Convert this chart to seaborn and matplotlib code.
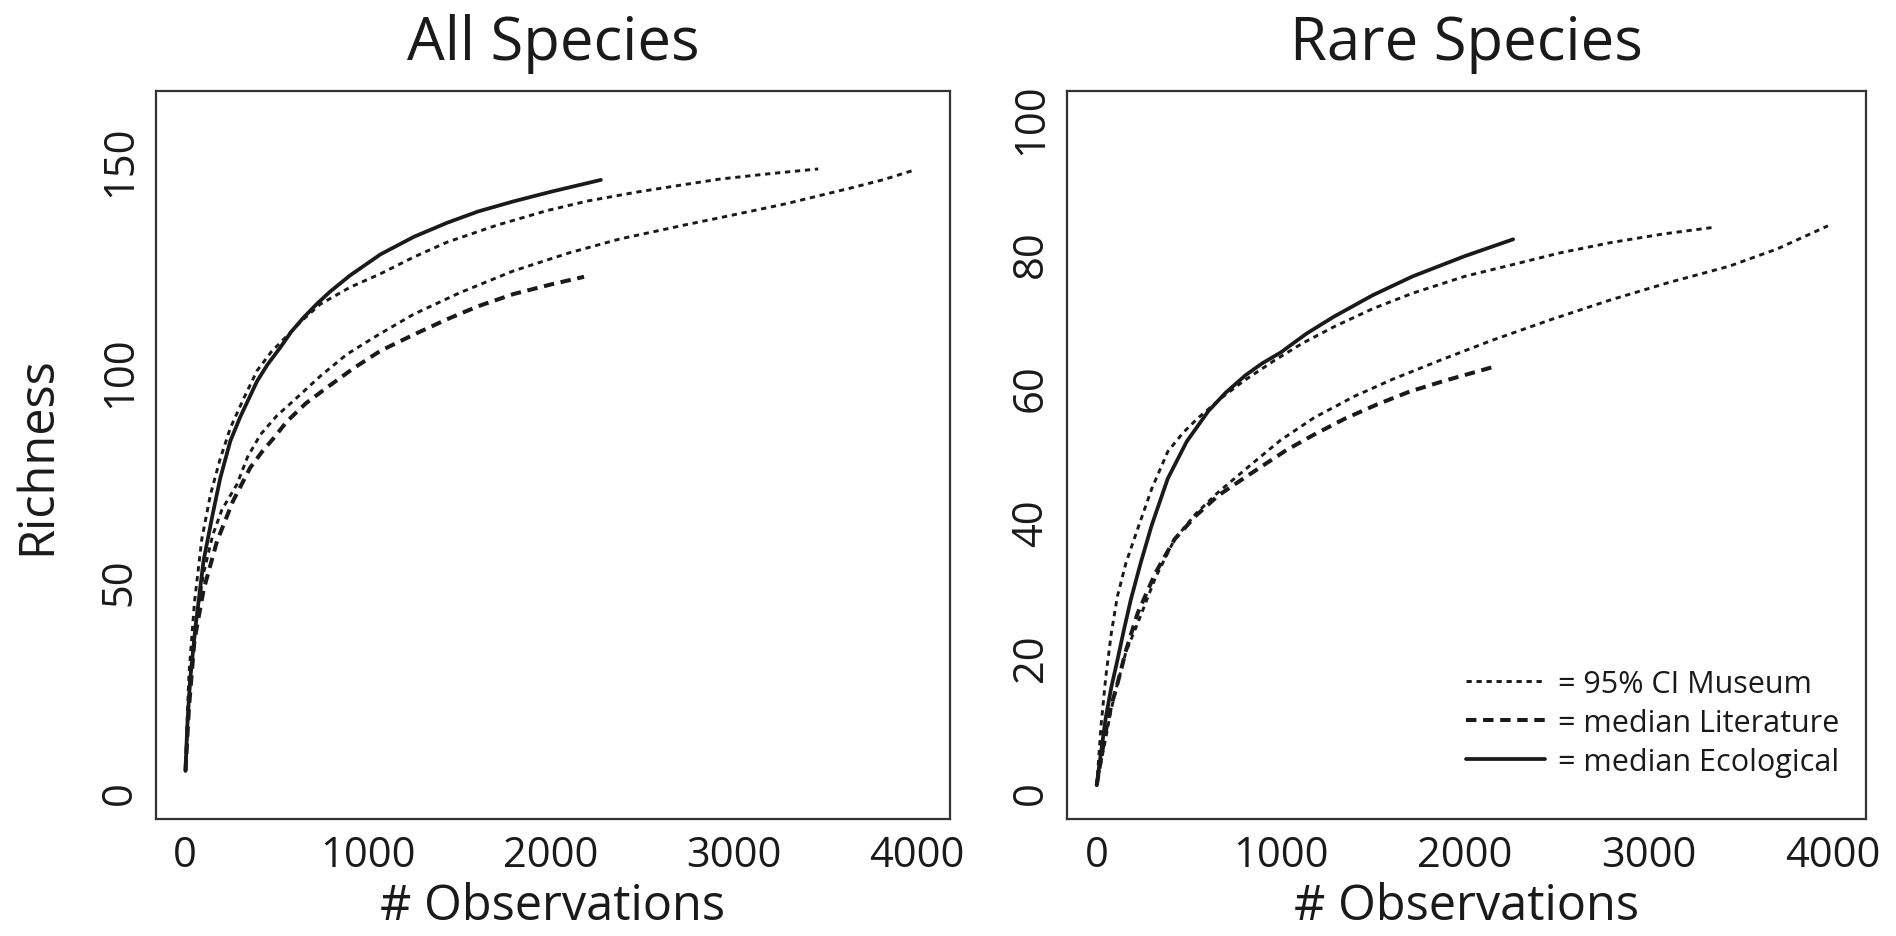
import matplotlib
matplotlib.use("Agg")
import matplotlib.pyplot as plt
import seaborn as sns

# All Species panel
all_eco_x = [1, 10, 25, 55, 100, 150, 191, 246, 300, 392, 450, 519, 580, 646, 720, 792,
             900, 1066, 1250, 1430, 1600, 1794, 2000, 2272]
all_eco_y = [5, 15, 26, 39, 55, 66, 74.5, 83.3, 89, 97.5, 101.5, 105.5, 109.3, 112.6, 115.9, 118.8,
             122.6, 127.6, 131.8, 135.1, 137.8, 140.2, 142.5, 145.3]
all_mus_hi_x = [1, 10, 20, 50, 90, 137, 190, 246, 320, 392, 470, 550, 640, 738, 900, 1066,
                1250, 1430, 1700, 1976, 2200, 2468, 2700, 2923, 3200, 3460]
all_mus_hi_y = [5, 17, 28, 45, 60, 70.5, 79, 86.4, 93.5, 100, 104.5, 108, 112, 115.8, 119.8, 123,
                127, 130.5, 134.5, 138, 140.3, 142.4, 144, 145.5, 146.8, 147.9]
all_mus_lo_x = [1, 20, 50, 100, 150, 200, 282, 340, 410, 500, 610, 740, 883, 1050, 1248, 1500,
                1794, 2100, 2377, 2560, 2741, 2920, 3106, 3290, 3470, 3650, 3820, 3975]
all_mus_lo_y = [5, 22, 38, 52, 61, 67, 73, 79.5, 84.8, 89.3, 93.6, 98.8, 103.9, 108.4, 113.4, 118.5,
                123.7, 128, 131.3, 133, 134.7, 136.3, 138, 139.7, 141.6, 143.5, 145.4, 147.5]
all_lit_x = [1, 20, 50, 100, 173, 260, 355, 420, 483, 556, 660, 774, 920, 1066, 1250, 1430,
             1600, 1794, 2000, 2180]
all_lit_y = [5, 20, 36, 48, 59.5, 69, 77, 80.8, 84, 88, 92.3, 96, 100.6, 104.7, 108.6, 112.2,
             115.3, 118.2, 120.5, 122.3]

# Rare Species panel
rare_eco_x = [1, 25, 50, 80, 113, 150, 186, 240, 300, 387, 490, 607, 700, 808, 900, 1000,
              1140, 1288, 1500, 1717, 2000, 2263]
rare_eco_y = [1, 6, 11, 15.5, 19.5, 24.2, 28.5, 34, 39.6, 46.5, 52, 56.5, 59.2, 61.8, 63.6, 65.2,
              68, 70.5, 73.7, 76.5, 79.5, 82]
rare_mus_hi_x = [1, 25, 50, 80, 113, 160, 223, 300, 387, 470, 552, 680, 800, 965, 1120, 1288,
                 1500, 1717, 2000, 2254, 2520, 2791, 3080, 3359]
rare_mus_hi_y = [1, 10, 17, 23.5, 29, 34, 39, 45, 50.5, 53.3, 55.5, 58.5, 61, 64, 66.6, 69,
                 71.7, 74, 76.5, 78.2, 80, 81.5, 82.8, 83.8]
rare_mus_lo_x = [1, 25, 50, 80, 113, 160, 223, 320, 424, 540, 662, 858, 1000, 1180, 1400, 1610,
                 1880, 2147, 2470, 2791, 3110, 3436, 3700, 3973]
rare_mus_lo_y = [1, 4.5, 8, 12.3, 16, 20.8, 25, 31.8, 37.5, 41.3, 44.5, 49, 52.2, 55.5, 58.7, 61.25,
                 64.2, 67, 70.1, 73, 75.6, 78, 80.6, 84]
rare_lit_x = [1, 25, 50, 80, 113, 160, 223, 320, 424, 540, 662, 770, 880, 1030, 1180, 1350,
              1524, 1700, 1889, 2147]
rare_lit_y = [1, 5, 9, 12.8, 16, 21, 26.5, 32.5, 37.5, 41, 44, 46, 48, 50.7, 53, 55.4,
              57.5, 59.4, 61, 63]

legend_labels = ["= 95% CI Museum", "= median Literature", "= median Ecological"]

sns.set_style("white")
plt.rcParams['font.family'] = ['Open Sans', 'DejaVu Sans']
plt.rcParams['lines.scale_dashes'] = False
ink = "#1a1a1a"

mus_style = dict(color=ink, linewidth=2.1, linestyle=(0, (3.8, 3.4)))
lit_style = dict(color=ink, linewidth=2.9, linestyle=(0, (7.5, 4.8)))
eco_style = dict(color=ink, linewidth=2.7, linestyle="-")

fig = plt.figure(figsize=(18.96, 9.37), dpi=100)
ax1 = fig.add_axes([0.0823, 0.1249, 0.4187, 0.7769])
ax2 = fig.add_axes([0.5628, 0.1249, 0.4214, 0.7769])


def draw(ax, eco, hi, lo, lit, ymax, yticks, title):
    sns.lineplot(x=hi[0], y=hi[1], ax=ax, **mus_style)
    sns.lineplot(x=lo[0], y=lo[1], ax=ax, **mus_style)
    sns.lineplot(x=lit[0], y=lit[1], ax=ax, **lit_style)
    sns.lineplot(x=eco[0], y=eco[1], ax=ax, **eco_style)
    ax.set_xlim(-160, 4180)
    ax.set_ylim(-0.04 * ymax, 1.04 * ymax)
    ax.set_xticks([0, 1000, 2000, 3000, 4000])
    ax.set_yticks(yticks)
    ax.set_title(title, fontsize=43, color=ink, pad=23)
    ax.set_xlabel("# Observations", fontsize=35, color=ink, labelpad=4)
    ax.set_ylabel("")
    ax.tick_params(axis="both", direction="out", length=9, width=1.5,
                   color="#333333", labelsize=30, labelcolor=ink, pad=2)
    for lab in ax.get_yticklabels():
        lab.set_rotation(90)
        lab.set_va("center")
    for s in ax.spines.values():
        s.set_color("#333333")
        s.set_linewidth(1.6)


draw(ax1, (all_eco_x, all_eco_y), (all_mus_hi_x, all_mus_hi_y),
     (all_mus_lo_x, all_mus_lo_y), (all_lit_x, all_lit_y),
     160, [0, 50, 100, 150], "All Species")
draw(ax2, (rare_eco_x, rare_eco_y), (rare_mus_hi_x, rare_mus_hi_y),
     (rare_mus_lo_x, rare_mus_lo_y), (rare_lit_x, rare_lit_y),
     100, [0, 20, 40, 60, 80, 100], "Rare Species")

ax1.set_ylabel("Richness", fontsize=35, color=ink, labelpad=26)

handles = [plt.Line2D([], [], **mus_style),
           plt.Line2D([], [], **lit_style),
           plt.Line2D([], [], **eco_style)]
ax2.legend(handles, legend_labels, loc="lower right", frameon=False,
           fontsize=22, handlelength=2.6, handletextpad=0.42,
           labelspacing=0.3, borderaxespad=0, labelcolor=ink,
           bbox_to_anchor=(0.982, 0.041))

fig.savefig("out.png", dpi=100)
